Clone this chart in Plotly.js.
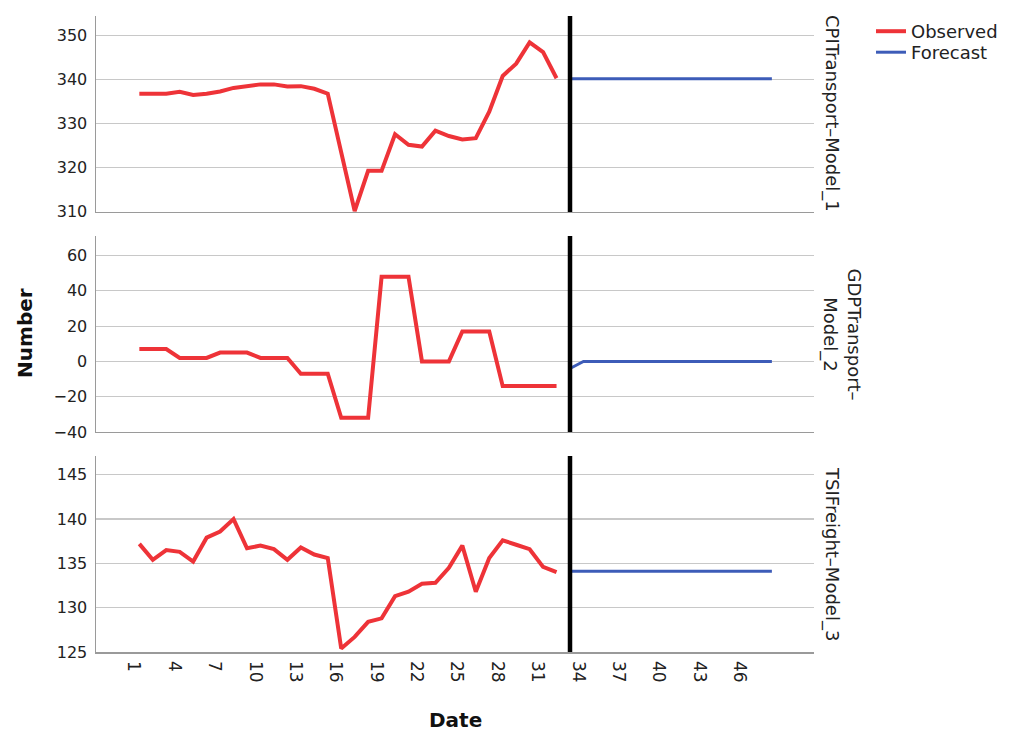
<!DOCTYPE html>
<html>
<head>
<meta charset="utf-8">
<script src="https://cdn.plot.ly/plotly-3.0.1.min.js"></script>
<style>html,body{margin:0;padding:0;background:#fff;}#chart{width:1016px;height:733px;}</style>
</head>
<body>
<div id="chart"></div>
<script>
// ---- data ----
const observedDates = [1,2,3,4,5,6,7,8,9,10,11,12,13,14,15,16,17,18,19,20,21,22,23,24,25,26,27,28,29,30,31,32];
const forecastDates = [33,34,35,36,37,38,39,40,41,42,43,44,45,46,47,48];

const cpiObserved = [336.8,336.8,336.8,337.2,336.5,336.8,337.3,338.1,338.6,338.9,338.9,338.4,338.5,337.9,336.8,323.5,310.2,319.3,319.3,327.6,325.2,324.8,328.4,327.2,326.4,326.7,332.7,340.8,343.6,348.4,346.2,340.3];
const cpiForecast = [340.2,340.2,340.2,340.2,340.2,340.2,340.2,340.2,340.2,340.2,340.2,340.2,340.2,340.2,340.2,340.2];

const gdpObserved = [7,7,7,2,2,2,5,5,5,2,2,2,-7,-7,-7,-32,-32,-32,48,48,48,0,0,0,17,17,17,-14,-14,-14,-14,-14];
const gdpForecast = [-4,0,0,0,0,0,0,0,0,0,0,0,0,0,0,0];

const tsiObserved = [137.2,135.4,136.5,136.3,135.2,137.9,138.6,140.0,136.7,137.0,136.6,135.4,136.8,136.0,135.6,125.4,126.7,128.4,128.8,131.3,131.8,132.7,132.8,134.5,137.0,131.8,135.6,137.6,137.1,136.6,134.6,134.0];
const tsiForecast = [134.1,134.1,134.1,134.1,134.1,134.1,134.1,134.1,134.1,134.1,134.1,134.1,134.1,134.1,134.1,134.1];

const xTickLabels = [1,4,7,10,13,16,19,22,25,28,31,34,37,40,43,46];
const panelTitles = ["CPITransport–Model_1", "GDPTransport–<br>Model_2", "TSIFreight–Model_3"];
const seriesNames = ["Observed", "Forecast"];

// ---- styling ----
const RED = "#ee3338", BLUE = "#3d5cb8";
const FONT = "DejaVu Sans, Verdana, sans-serif";
const TICK_SHIFT = -0.4; // rotated labels sit slightly left of their category in the reference
const panels = [
  {obs: cpiObserved, fc: cpiForecast, ax: "", range: [310, 354.4], dtick: 10},
  {obs: gdpObserved, fc: gdpForecast, ax: "2", range: [-40, 71.1], dtick: 20},
  {obs: tsiObserved, fc: tsiForecast, ax: "3", range: [125, 147.1], dtick: 5}
];
const domains = [[0.692, 1], [0.346, 0.654], [0, 0.308]];

const traces = [];
panels.forEach((p, i) => {
  traces.push({x: observedDates, y: p.obs, xaxis: "x" + p.ax, yaxis: "y" + p.ax, type: "scatter", mode: "lines",
    name: seriesNames[0], legend: "legend", showlegend: i === 0, line: {color: RED, width: 4}});
  traces.push({x: forecastDates, y: p.fc, xaxis: "x" + p.ax, yaxis: "y" + p.ax, type: "scatter", mode: "lines",
    name: seriesNames[1], legend: "legend2", showlegend: i === 0, line: {color: BLUE, width: 3}});
});

const legendBase = {xref: "container", yref: "container", xanchor: "left", yanchor: "top",
  font: {family: FONT, size: 18, color: "#222"}, bgcolor: "rgba(0,0,0,0)"};

const layout = {
  width: 1016, height: 733,
  margin: {l: 96, r: 202, t: 16, b: 81},
  paper_bgcolor: "#fff", plot_bgcolor: "#fff",
  font: {family: FONT, size: 16, color: "#222"},
  showlegend: true,
  legend: Object.assign({}, legendBase, {x: 871 / 1016, y: 1 - 13 / 733}),
  legend2: Object.assign({}, legendBase, {x: 871 / 1016, y: 1 - 34 / 733}),
  shapes: [], annotations: []
};

panels.forEach((p, i) => {
  const xa = "xaxis" + p.ax, ya = "yaxis" + p.ax;
  layout[xa] = {range: [-2.22, 51.13], anchor: "y" + p.ax, showgrid: false, zeroline: false,
    showline: true, linecolor: "#9a9a9a", linewidth: 1.5, ticks: "",
    showticklabels: i === 2, tickmode: "array", tickvals: xTickLabels.map(v => v + TICK_SHIFT),
    ticktext: xTickLabels.map(String), ticklabelstandoff: 4,
    tickangle: 90, tickfont: {family: FONT, size: 17, color: "#222"}};
  if (i < 2) layout[xa].matches = "x3";
  layout[ya] = {domain: domains[i], range: p.range, dtick: p.dtick, tick0: p.range[0], anchor: "x" + p.ax,
    showgrid: true, gridcolor: "#c8c8c8", gridwidth: 1.2, zeroline: false,
    showline: true, linecolor: "#9a9a9a", linewidth: 1.5, ticks: "", ticklabelstandoff: 4,
    tickfont: {family: FONT, size: 16, color: "#222"}};
  layout.shapes.push({type: "line", xref: "x" + p.ax, yref: "y" + p.ax + " domain",
    x0: forecastDates[0], x1: forecastDates[0], y0: 0, y1: 1, line: {color: "#000", width: 4.5}, layer: "above"});
  layout.annotations.push({xref: "paper", yref: "paper", x: i === 1 ? 1.0397 : 1.025,
    y: (domains[i][0] + domains[i][1]) / 2, text: panelTitles[i], textangle: 90, showarrow: false,
    xanchor: "center", yanchor: "middle", font: {family: FONT, size: 18, color: "#222"}});
});

layout.annotations.push({xref: "paper", yref: "paper", x: -0.099, y: 0.5016, text: "<b>Number</b>", textangle: -90,
  showarrow: false, xanchor: "center", yanchor: "middle", font: {family: FONT, size: 20, color: "#111"}});
layout.annotations.push({xref: "paper", yref: "paper", x: 0.5, y: -0.107, text: "<b>Date</b>",
  showarrow: false, xanchor: "center", yanchor: "middle", font: {family: FONT, size: 20, color: "#111"}});

Plotly.newPlot("chart", traces, layout, {displayModeBar: false, staticPlot: true});
</script>
</body>
</html>
